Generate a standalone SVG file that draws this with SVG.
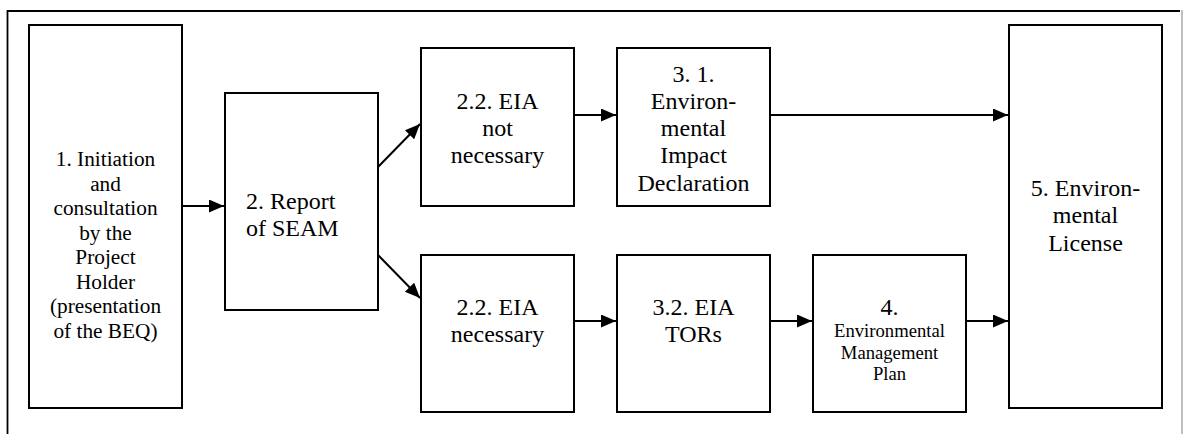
<svg xmlns="http://www.w3.org/2000/svg" width="1183" height="434" viewBox="0 0 1183 434">
<style>
.box{fill:#fff;stroke:#000;stroke-width:2}
text{font-family:"Liberation Serif","Times New Roman",serif;font-size:24px;fill:#000;text-anchor:middle}
.s{font-size:21.3px}
.xs{font-size:18.67px}
.l{text-anchor:start}
.c{stroke:#000;stroke-width:2;fill:none;marker-end:url(#ah)}
</style>
<defs>
<marker id="ah" markerUnits="userSpaceOnUse" markerWidth="16" markerHeight="14" refX="15" refY="6.5" orient="auto">
<path d="M0,0 L15,6.5 L0,13 z" fill="#000"/>
</marker>
</defs>
<rect width="1183" height="434" fill="#fff"/>
<g id="frame">
<path d="M7.5,434 V11 H1180" fill="none" stroke="#000" stroke-width="1.8"/>
<line x1="1182" y1="10" x2="1182" y2="434" stroke="#aaa" stroke-width="1.5"/>
</g>
<g id="connectors">
<line class="c" x1="182" y1="206" x2="224" y2="206"/>
<line class="c" x1="378" y1="167" x2="420" y2="124"/>
<line class="c" x1="378" y1="255" x2="420" y2="298"/>
<line class="c" x1="574" y1="115" x2="616" y2="115"/>
<line class="c" x1="770" y1="115" x2="1008" y2="115"/>
<line class="c" x1="574" y1="321" x2="616" y2="321"/>
<line class="c" x1="770" y1="321" x2="812" y2="321"/>
<line class="c" x1="966" y1="321" x2="1008" y2="321"/>
</g>
<g id="n1">
<rect class="box" x="29" y="25" width="153" height="383"/>
<text class="s" x="105.5" y="166">1. Initiation</text>
<text class="s" x="105.5" y="190.5">and</text>
<text class="s" x="105.5" y="215">consultation</text>
<text class="s" x="105.5" y="239.5">by the</text>
<text class="s" x="105.5" y="264">Project</text>
<text class="s" x="105.5" y="288.5">Holder</text>
<text class="s" x="105.5" y="313">(presentation</text>
<text class="s" x="105.5" y="337.5">of the BEQ)</text>
</g>
<g id="n2">
<rect class="box" x="225" y="93" width="153" height="217"/>
<text class="l" x="246" y="209">2. Report</text>
<text class="l" x="246" y="236">of SEAM</text>
</g>
<g id="n22a">
<rect class="box" x="421" y="48" width="153" height="158"/>
<text x="497.5" y="108.5">2.2. EIA</text>
<text x="497.5" y="136">not</text>
<text x="497.5" y="163.3">necessary</text>
</g>
<g id="n31">
<rect class="box" x="617" y="48" width="153" height="158"/>
<text x="693.5" y="81.7">3. 1.</text>
<text x="693.5" y="108.8">Environ-</text>
<text x="693.5" y="136">mental</text>
<text x="693.5" y="163.3">Impact</text>
<text x="693.5" y="190.5">Declaration</text>
</g>
<g id="n22b">
<rect class="box" x="421" y="255" width="153" height="157"/>
<text x="497.5" y="315">2.2. EIA</text>
<text x="497.5" y="342">necessary</text>
</g>
<g id="n32">
<rect class="box" x="617" y="255" width="153" height="157"/>
<text x="693.5" y="315">3.2. EIA</text>
<text x="693.5" y="342">TORs</text>
</g>
<g id="n4">
<rect class="box" x="813" y="255" width="153" height="157"/>
<text x="889.5" y="315">4.</text>
<text class="xs" x="889.5" y="337.3">Environmental</text>
<text class="xs" x="889.5" y="359">Management</text>
<text class="xs" x="889.5" y="380">Plan</text>
</g>
<g id="n5">
<rect class="box" x="1009" y="25" width="153" height="383"/>
<text x="1085.5" y="196">5. Environ-</text>
<text x="1085.5" y="223.3">mental</text>
<text x="1085.5" y="250.7">License</text>
</g>
</svg>
